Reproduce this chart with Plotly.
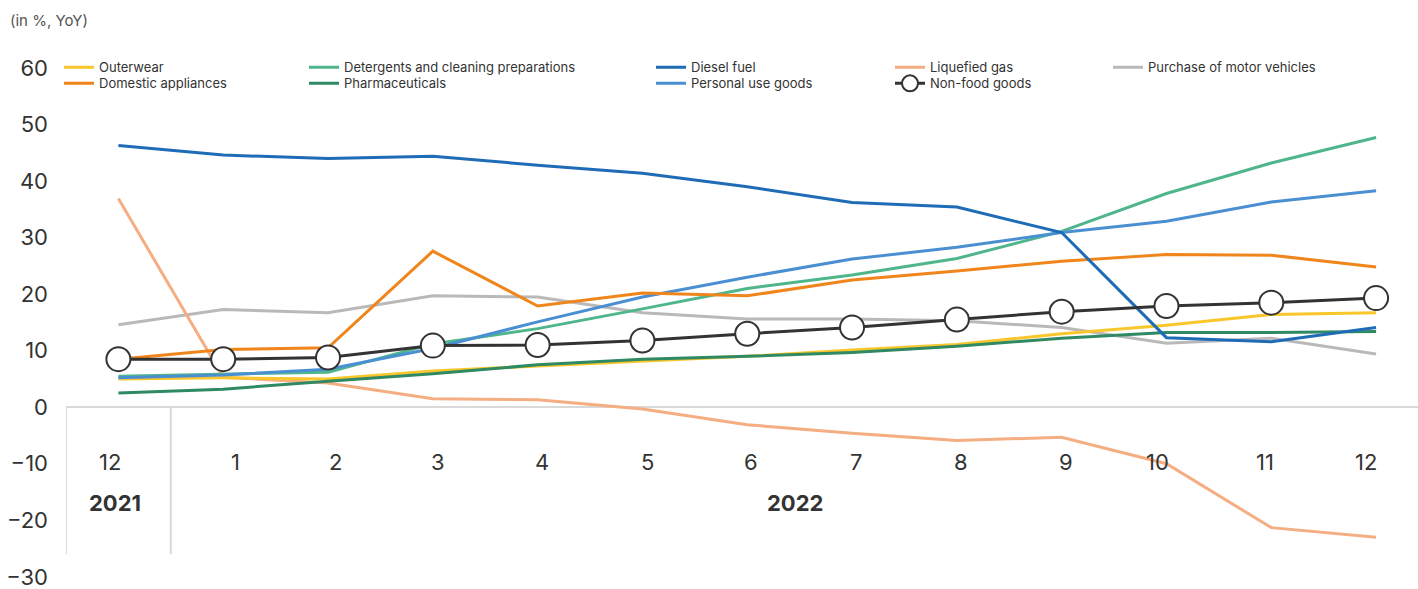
import plotly.graph_objects as go

months = ["12", "1", "2", "3", "4", "5", "6", "7", "8", "9", "10", "11", "12"]
xpos = list(range(13))

outerwear = [5.0, 5.2, 5.0, 6.4, 7.3, 8.1, 9.0, 10.1, 11.1, 13.0, 14.5, 16.4, 16.7]
domestic = [8.5, 10.2, 10.5, 27.6, 17.9, 20.2, 19.7, 22.5, 24.1, 25.8, 27.0, 26.9, 24.8]
detergents = [5.5, 5.9, 6.2, 11.2, 13.9, 17.4, 21.0, 23.4, 26.3, 31.1, 37.8, 43.2, 47.7]
pharma = [2.5, 3.2, 4.6, 5.9, 7.5, 8.5, 9.0, 9.7, 10.8, 12.2, 13.2, 13.2, 13.4]
diesel = [46.3, 44.6, 44.0, 44.4, 42.8, 41.4, 39.0, 36.2, 35.4, 30.9, 12.3, 11.6, 14.1]
personal = [5.2, 5.7, 6.7, 10.4, 15.1, 19.5, 23.0, 26.2, 28.3, 30.9, 32.9, 36.3, 38.3]
liquefied = [36.9, 5.3, 4.3, 1.5, 1.3, -0.3, -3.1, -4.6, -5.9, -5.3, -10.0, -21.3, -23.0]
motor = [14.6, 17.3, 16.7, 19.7, 19.5, 16.7, 15.6, 15.6, 15.3, 14.1, 11.3, 12.2, 9.4]
nonfood = [8.5, 8.5, 8.8, 10.9, 11.0, 11.8, 13.0, 14.1, 15.5, 16.9, 17.9, 18.5, 19.3]

years = ["2021", "2022"]
y_ticks = [-30, -20, -10, 0, 10, 20, 30, 40, 50, 60]

FONT = "Inter"
TOP, BOT = 68, 12
W = 1352.0
H = 589.0 - TOP - BOT
Y0 = 589 - BOT
PX_PER_CAT = W / 12.9
col_px = [66, 311, 658, 897, 1115]
row_px = [67, 83]
# small horizontal nudges (px) of the month / year labels relative to the points
month_nudge = [-8, 12, 7, 5, 4, 5, 4, 4, 4, 4, -9, -6, -10]
year_x = [-0.5 + (115 - 66) / PX_PER_CAT, -0.5 + (795 - 66) / PX_PER_CAT]

# (name, values, colour, legend column, legend row)
series = [
    ("Purchase of motor vehicles", motor, "#b9b9b9", 4, 0),
    ("Liquefied gas", liquefied, "#f5ad82", 3, 0),
    ("Outerwear", outerwear, "#f9c62b", 0, 0),
    ("Pharmaceuticals", pharma, "#2f8a63", 1, 1),
    ("Detergents and cleaning preparations", detergents, "#4fb68c", 1, 0),
    ("Personal use goods", personal, "#4b8fd3", 2, 1),
    ("Domestic appliances", domestic, "#f0851b", 0, 1),
    ("Diesel fuel", diesel, "#1f6cb6", 2, 0),
]

legend_common = dict(orientation="v", font=dict(family=FONT, size=13, color="#333333"),
                     bgcolor="rgba(0,0,0,0)", yanchor="top", xanchor="left",
                     tracegroupgap=0, itemwidth=30)
lay_leg = {}


def legend_key(i):
    return "legend" if i == 0 else "legend%d" % (i + 1)


def make_legend(i, colp, rowp):
    lay_leg[legend_key(i)] = dict(legend_common,
                                  x=(col_px[colp] - 66 - 7) / W,
                                  y=(Y0 - (row_px[rowp] - 14.6)) / H)


fig = go.Figure()
for i, (name, vals, col, c, r) in enumerate(series):
    make_legend(i, c, r)
    fig.add_trace(go.Scatter(
        x=xpos, y=vals, mode="lines", name=name,
        line=dict(color=col, width=3), legend=legend_key(i),
        hoverinfo="skip"))

k = len(series)
make_legend(k, 3, 1)
fig.add_trace(go.Scatter(
    x=xpos, y=nonfood, mode="lines+markers", name="Non-food goods",
    line=dict(color="#333333", width=3),
    marker=dict(size=24, color="white", line=dict(color="#333333", width=2)),
    legend=legend_key(k), hoverinfo="skip"))

# month labels and year labels
for xv, m, dn in zip(xpos, months, month_nudge):
    fig.add_annotation(x=xv + dn / PX_PER_CAT, y=-9.6, text=m, showarrow=False,
                       font=dict(family=FONT, size=22, color="#333333"),
                       xanchor="center", yanchor="middle")
for xv, yr in zip(year_x, years):
    fig.add_annotation(x=xv, y=-16.9, text="<b>" + yr + "</b>", showarrow=False,
                       font=dict(family=FONT, size=22, color="#333333"),
                       xanchor="center", yanchor="middle")

fig.add_annotation(x=(8 - 66) / W, y=(Y0 - 20) / H, xref="paper", yref="paper",
                   text="(in %, YoY)", showarrow=False,
                   font=dict(family=FONT, size=15, color="#555555"),
                   xanchor="left", yanchor="middle")

# separators
for xs in [-0.5, 0.5]:
    fig.add_shape(type="line", x0=xs, x1=xs, y0=0, y1=-26.0, xref="x", yref="y",
                  line=dict(color="#d9d9d9", width=2), layer="below")

fig.update_layout(
    width=1418, height=589,
    margin=dict(l=66, r=0, t=TOP, b=BOT, autoexpand=False),
    paper_bgcolor="white", plot_bgcolor="white",
    showlegend=True,
    xaxis=dict(range=[-0.5, 12.4], visible=False, showgrid=False, zeroline=False,
               automargin=False),
    yaxis=dict(range=[-30.03, 60], tickvals=y_ticks, showgrid=False,
               zeroline=True, zerolinecolor="#d9d9d9", zerolinewidth=2,
               showline=False, ticks="", ticklabelstandoff=17,
               ticklabeloverflow="allow", automargin=False,
               tickfont=dict(family=FONT, size=22, color="#333333")),
    **lay_leg,
)

fig.write_html("out.html")
